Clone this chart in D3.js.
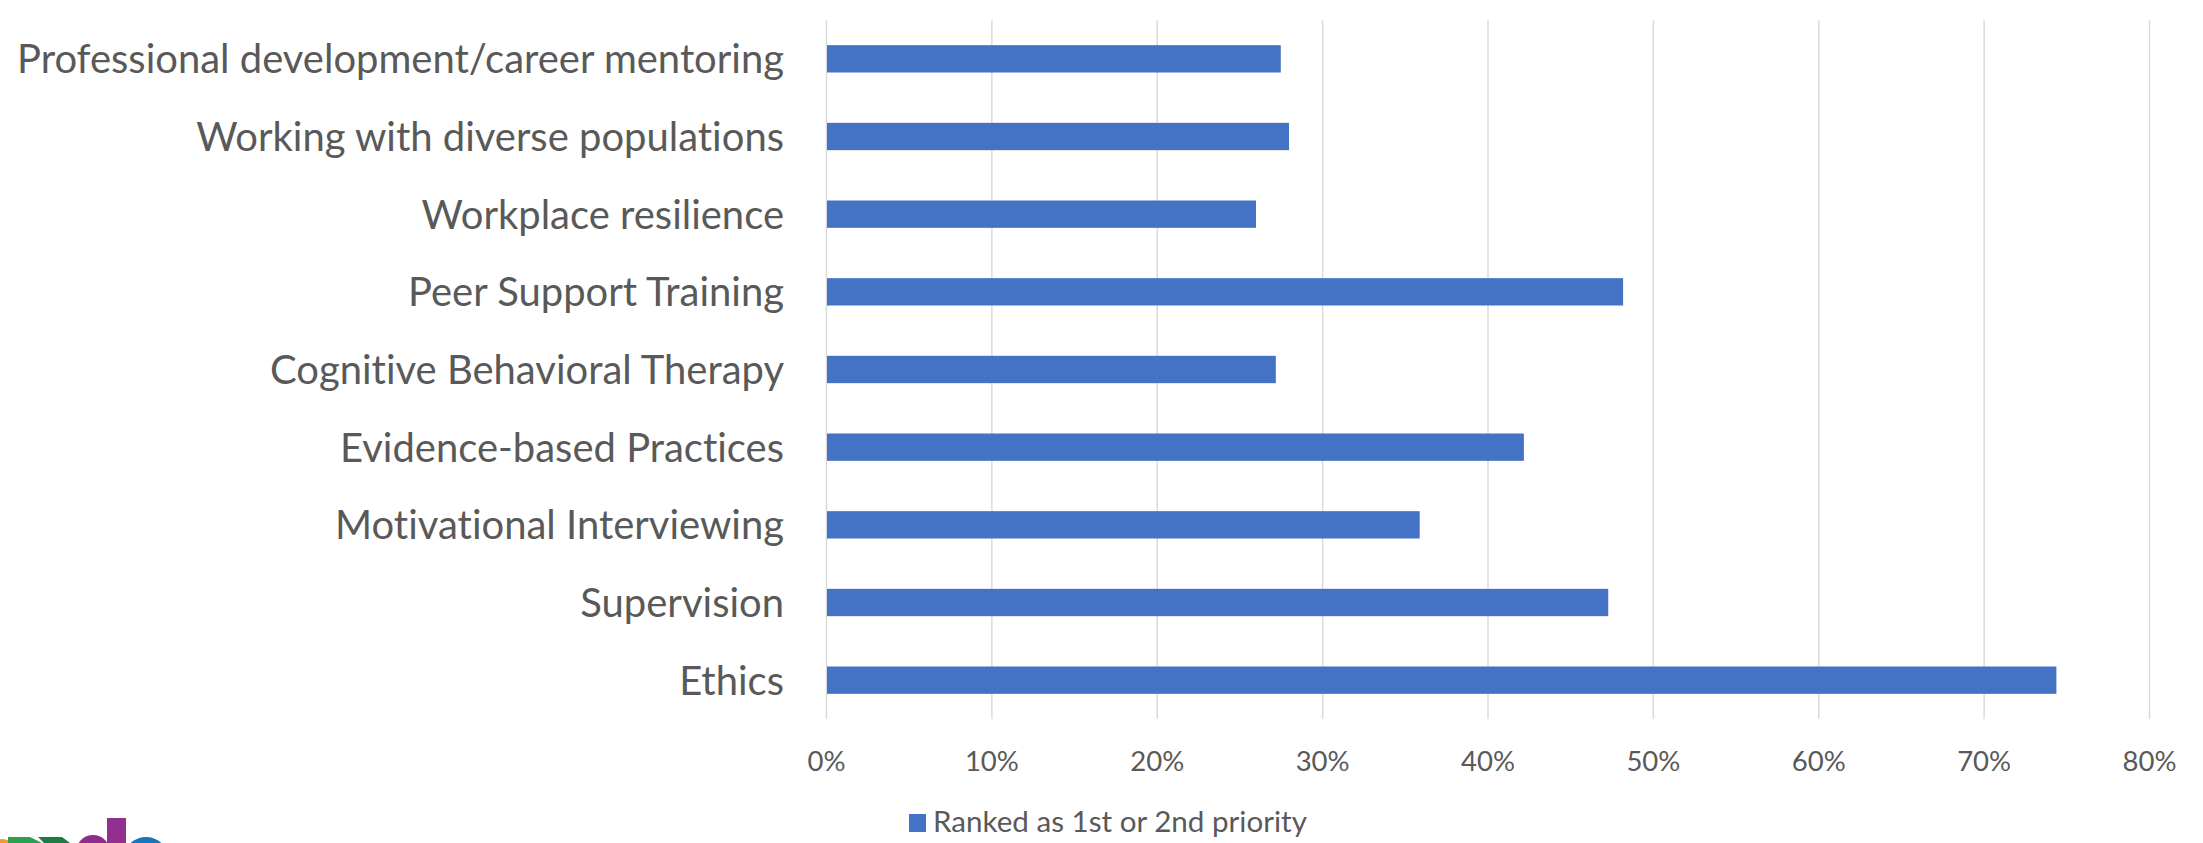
<!DOCTYPE html>
<html>
<head>
<meta charset="utf-8">
<script src="https://cdn.jsdelivr.net/npm/d3@7"></script>
<style>
  html, body { margin: 0; padding: 0; background: #ffffff; }
  svg { display: block; }
  text { font-family: Lato, "Noto Sans", sans-serif; fill: #595959; font-variant-ligatures: none; font-feature-settings: "liga" 0, "clig" 0; }
</style>
</head>
<body>
<svg id="chart" width="2203" height="843"></svg>
<script>
// Training topics, listed top to bottom
const categories = [
  "Professional development/career mentoring",
  "Working with diverse populations",
  "Workplace resilience",
  "Peer Support Training",
  "Cognitive Behavioral Therapy",
  "Evidence-based Practices",
  "Motivational Interviewing",
  "Supervision",
  "Ethics"
];
// Share of respondents ranking the topic as 1st or 2nd priority
const values = [0.275, 0.280, 0.260, 0.482, 0.272, 0.422, 0.359, 0.473, 0.744];
const xTicks = [0, 0.1, 0.2, 0.3, 0.4, 0.5, 0.6, 0.7, 0.8];
const seriesName = "Ranked as 1st or 2nd priority";

const W = 2203, H = 843;
const plot = { left: 826, right: 2149, top: 20, bottom: 719 };
const barColor = "#4472C4";
const gridColor = "#D9D9D9";

const svg = d3.select("#chart");

const x = d3.scaleLinear().domain([0, 0.8]).range([plot.left, plot.right]);
const y = d3.scaleBand().domain(categories)
  .range([plot.top, plot.bottom])
  .paddingInner(0.648).paddingOuter(0.324);

// fit a text group's font size so a reference string reaches a target width
function fitSize(sample, targetWidth, base) {
  const t = svg.append("text").attr("font-size", base).text(sample);
  const w = t.node().getComputedTextLength();
  t.remove();
  return base * targetWidth / w;
}
const labelSize = fitSize(categories[0], 767, 40);
const tickSize = fitSize("80%", 54, 31);
const legendSize = fitSize(seriesName, 374, 27);

// vertical gridlines via the axis generator
const grid = svg.append("g")
  .attr("transform", `translate(0,${plot.bottom})`)
  .call(d3.axisBottom(x).tickValues(xTicks).tickSize(-(plot.bottom - plot.top)).tickFormat(""));
grid.select(".domain").remove();
grid.selectAll(".tick line").attr("stroke", gridColor).attr("stroke-width", 1.4);

// percentage tick labels
const xAxis = svg.append("g")
  .attr("transform", `translate(0,${plot.bottom})`)
  .call(d3.axisBottom(x).tickValues(xTicks).tickSize(0).tickPadding(0).tickFormat(d3.format(".0%")));
xAxis.select(".domain").remove();
xAxis.selectAll(".tick text")
  .attr("y", 52).attr("dy", null)
  .attr("font-size", tickSize)
  .style("font-family", "Lato, 'Noto Sans', sans-serif")
  .attr("fill", "#595959");

// bars
svg.append("g").selectAll("rect")
  .data(categories)
  .join("rect")
  .attr("x", x(0) + 1)
  .attr("y", d => y(d))
  .attr("width", (d, i) => x(values[i]) - x(0) - 1)
  .attr("height", y.bandwidth())
  .attr("fill", barColor);

// category labels
const yAxis = svg.append("g")
  .attr("transform", `translate(${plot.left - 42},0)`)
  .call(d3.axisLeft(y).tickSize(0).tickPadding(0));
yAxis.select(".domain").remove();
yAxis.selectAll(".tick text")
  .attr("x", 0)
  .attr("dy", "0.36em")
  .attr("font-size", labelSize)
  .style("font-family", "Lato, 'Noto Sans', sans-serif")
  .attr("fill", "#595959");

// legend
const legend = svg.append("g").attr("transform", "translate(909,814)");
legend.append("rect").attr("width", 17).attr("height", 18).attr("fill", barColor);
legend.append("text").attr("x", 24).attr("y", 17.5)
  .attr("font-size", legendSize).text(seriesName);

// partial logo peeking in at the bottom-left corner
const logo = svg.append("g");
logo.append("circle").attr("cx", 2).attr("cy", 852).attr("r", 13).attr("fill", "#F39A2B");
logo.append("path").attr("d", "M8,837 L30,837 L42,843 L8,843 Z").attr("fill", "#2E9E4F");
logo.append("path").attr("d", "M38,837 L62,837 L70,843 L44,843 Z").attr("fill", "#1F7A45");
logo.append("ellipse").attr("cx", 93).attr("cy", 852).attr("rx", 17).attr("ry", 17).attr("fill", "#8E2C8E");
logo.append("rect").attr("x", 107).attr("y", 818).attr("width", 19).attr("height", 25).attr("fill", "#93308F");
logo.append("ellipse").attr("cx", 146).attr("cy", 856).attr("rx", 21).attr("ry", 19).attr("fill", "#1B75BB");
</script>
</body>
</html>
